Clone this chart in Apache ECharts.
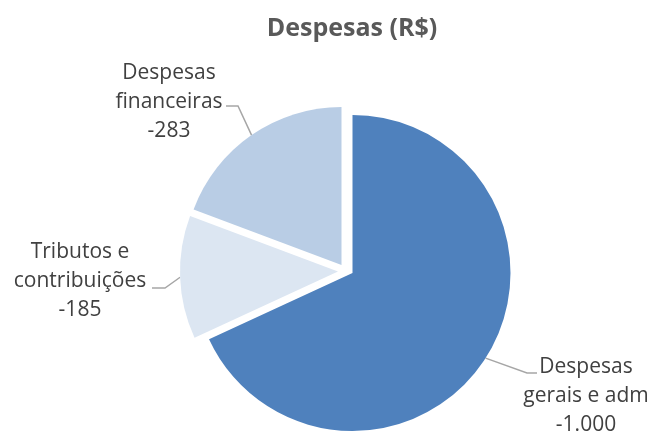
<!DOCTYPE html>
<html>
<head>
<meta charset="utf-8">
<script src="https://cdn.jsdelivr.net/npm/echarts@6/dist/echarts.min.js"></script>
<style>
html,body{margin:0;padding:0;background:#fff;}
#chart{width:648px;height:433px;}
</style>
</head>
<body>
<div id="chart"></div>
<script>
// Data
const categories = ['Despesas gerais e adm', 'Tributos e contribuições', 'Despesas financeiras'];
const values = [-1000, -185, -283];
const labelTexts = ['Despesas\ngerais e adm', 'Tributos e\ncontribuições', 'Despesas\nfinanceiras'];
const chartTitle = 'Despesas (R$)';

// Styles / layout
const colors = ['#4F81BD', '#DCE6F2', '#B9CDE5'];
const centers = [[352.5, 273], [338, 271.5], [341.5, 265]];
const labelPos = [[586, 396], [80, 281], [169, 102]];
const elbows = [[[527, 373], [537, 373]], [[165, 288], [152, 288]], [[238, 106], [226, 106]]];
const radius = 158;

function fmt(v) {
  const s = Math.abs(v).toString().replace(/\B(?=(\d{3})+(?!\d))/g, '.');
  return (v < 0 ? '-' : '') + s;
}

const series = categories.map(function (cat, i) {
  return {
    type: 'pie',
    center: centers[i],
    radius: radius,
    startAngle: 90,
    clockwise: true,
    silent: true,
    avoidLabelOverlap: false,
    emphasis: { disabled: true },
    animation: false,
    data: categories.map(function (c, j) {
      const visible = (j === i);
      return {
        name: c,
        value: Math.abs(values[j]),
        itemStyle: { color: visible ? colors[j] : 'rgba(0,0,0,0)' },
        label: { show: visible },
        labelLine: { show: visible }
      };
    }),
    label: {
      position: 'outside',
      fontFamily: 'Open Sans',
      fontSize: 21,
      lineHeight: 29,
      color: '#404040',
      align: 'center',
      overflow: 'none',
      formatter: function (p) {
        return labelTexts[p.dataIndex] + '\n' + fmt(values[p.dataIndex]);
      }
    },
    labelLine: {
      show: true,
      lineStyle: { color: '#A6A6A6', width: 1.5 }
    },
    labelLayout: function (params) {
      const start = params.labelLinePoints ? params.labelLinePoints[0] : elbows[i][0];
      return {
        x: labelPos[i][0],
        y: labelPos[i][1],
        align: 'center',
        verticalAlign: 'middle',
        labelLinePoints: [start, elbows[i][0], elbows[i][1]]
      };
    }
  };
});

const chart = echarts.init(document.getElementById('chart'), null, { renderer: 'canvas' });
chart.setOption({
  backgroundColor: '#ffffff',
  animation: false,
  title: {
    text: chartTitle,
    left: 347,
    textAlign: 'center',
    top: 11,
    textStyle: { fontFamily: 'Open Sans', fontWeight: 'bold', fontSize: 25, color: '#595959' }
  },
  series: series
});
</script>
</body>
</html>
